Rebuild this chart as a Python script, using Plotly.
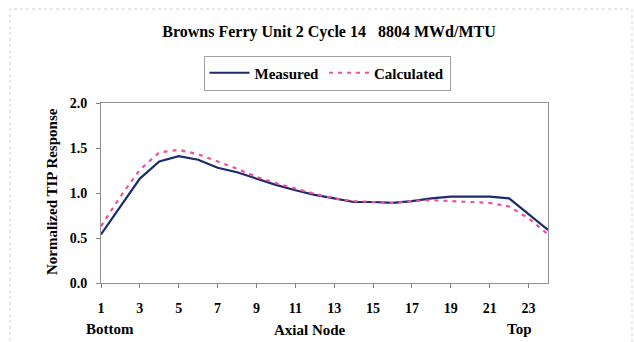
import plotly.graph_objects as go

nodes = list(range(1, 25))
measured = [0.54, 0.85, 1.16, 1.35, 1.41, 1.37, 1.28, 1.23, 1.16, 1.09, 1.03, 0.98,
            0.94, 0.90, 0.90, 0.89, 0.91, 0.94, 0.96, 0.96, 0.96, 0.94, 0.77, 0.59]
calculated = [0.63, 0.96, 1.26, 1.45, 1.48, 1.43, 1.35, 1.27, 1.18, 1.11, 1.05, 0.99,
              0.94, 0.91, 0.90, 0.89, 0.91, 0.92, 0.91, 0.90, 0.89, 0.85, 0.72, 0.54]
x_tick_vals = list(range(1, 24, 2))
y_tick_vals = [0.0, 0.5, 1.0, 1.5, 2.0]

FONT = "Liberation Serif"
W, H = 634, 342
L, R, T, B = 101, 548, 103, 283

def px(x):
    return (x - L) / (R - L)

def py(y):
    return (B - y) / (B - T)

fig = go.Figure()
fig.add_trace(go.Scatter(x=nodes, y=measured, mode="lines", name="<b>Measured</b>",
                         line=dict(color="#1c2a6e", width=2.2)))
fig.add_trace(go.Scatter(x=nodes, y=calculated, mode="lines", name="<b>Calculated</b>",
                         line=dict(color="#f0509a", width=2.2, dash="4px,5px")))

fig.update_layout(
    width=W, height=H,
    margin=dict(l=L, r=W - R, t=T, b=H - B, pad=0),
    paper_bgcolor="white", plot_bgcolor="white",
    font=dict(family=FONT, size=14, color="black"),
    title=dict(text="<b>Browns Ferry Unit 2 Cycle 14 &nbsp; 8804 MWd/MTU</b>",
               x=px(329), xref="paper", xanchor="center",
               y=1 - 31 / H, yref="container", yanchor="middle",
               font=dict(family=FONT, size=16, color="black")),
    showlegend=True,
    legend=dict(orientation="h", x=px(327), y=py(73), xanchor="center", yanchor="middle",
                bordercolor="#a0a0a0", borderwidth=1, bgcolor="white",
                font=dict(family=FONT, size=15, color="black"),
                itemwidth=40, tracegroupgap=0),
)

fig.update_xaxes(range=[1, 24], tickvals=x_tick_vals,
                 ticktext=[f"<b>{v}</b>" for v in x_tick_vals],
                 ticks="outside", ticklen=4, tickcolor="#808080",
                 ticklabelstandoff=8,
                 showline=True, linecolor="#909090", linewidth=1, mirror=True,
                 showgrid=False, zeroline=False,
                 tickfont=dict(family=FONT, size=14))
fig.update_yaxes(range=[0, 2.0], tickvals=y_tick_vals,
                 ticktext=[f"<b>{v:.1f}</b>" for v in y_tick_vals],
                 ticks="outside", ticklen=4, tickcolor="#808080",
                 ticklabelstandoff=6,
                 showline=True, linecolor="#909090", linewidth=1, mirror=True,
                 showgrid=False, zeroline=False,
                 tickfont=dict(family=FONT, size=14))

annotations = [
    dict(text="<b>Normalized TIP Response</b>", x=px(52), y=py(192), textangle=-90, size=15),
    dict(text="<b>Axial Node</b>", x=px(310), y=py(330), textangle=0, size=15),
    dict(text="<b>Bottom</b>", x=px(110), y=py(329), textangle=0, size=15),
    dict(text="<b>Top</b>", x=px(519), y=py(329), textangle=0, size=15),
]
for a in annotations:
    fig.add_annotation(xref="paper", yref="paper", showarrow=False,
                       xanchor="center", yanchor="middle",
                       font=dict(family=FONT, size=a["size"], color="black"),
                       text=a["text"], x=a["x"], y=a["y"], textangle=a["textangle"])

fig.add_shape(type="rect", xref="paper", yref="paper",
              x0=px(10), x1=px(632), y0=py(350), y1=py(9),
              line=dict(color="#d0d0d0", width=1, dash="dot"), layer="below")

fig.write_html("out.html")
